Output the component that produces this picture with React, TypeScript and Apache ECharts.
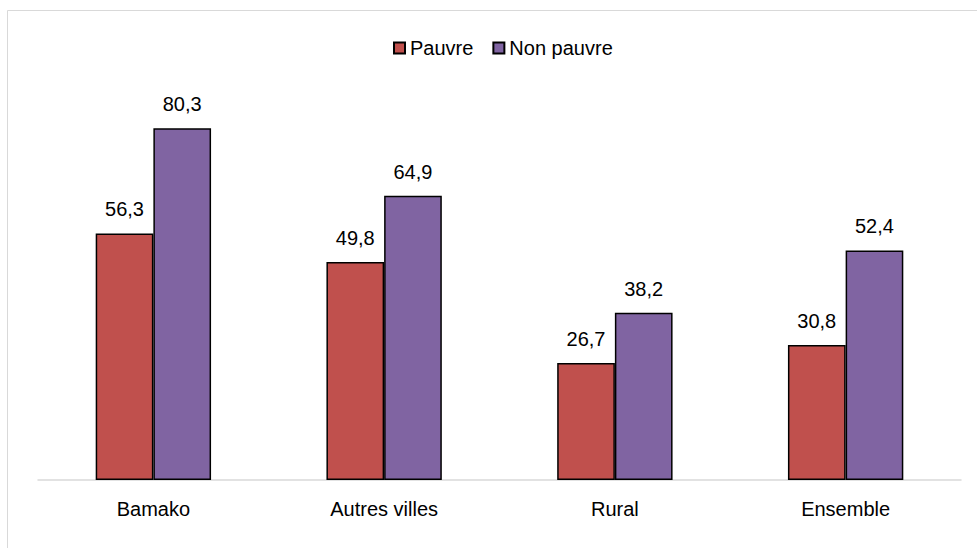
import React, { useEffect, useRef } from "react";
import * as echarts from "echarts";

const categories = ["Bamako", "Autres villes", "Rural", "Ensemble"];
const pauvre = [56.3, 49.8, 26.7, 30.8];
const nonPauvre = [80.3, 64.9, 38.2, 52.4];
const seriesNames = ["Pauvre", "Non pauvre"];

export default function App() {
  const ref = useRef<HTMLDivElement>(null);
  useEffect(() => {
    if (!ref.current) return;
    const chart = echarts.init(ref.current, undefined, { renderer: "svg" });
    const font = "'Liberation Sans', Arial, sans-serif";
    const label = {
      show: true,
      position: "top",
      distance: 14,
      color: "#000",
      fontSize: 20,
      fontFamily: font,
      formatter: (p: any) => String(p.value.toFixed(1)).replace(".", ","),
    };
    chart.setOption({
      animation: false,
      backgroundColor: "#fff",
      graphic: [
        {
          type: "rect",
          shape: { x: 7.5, y: 10.5, width: 1000, height: 600 },
          style: { fill: "none", stroke: "#d9d9d9", lineWidth: 1 },
          silent: true,
        },
      ],
      legend: {
        top: 38,
        left: 393,
        padding: 0,
        itemWidth: 11,
        itemHeight: 11,
        itemGap: 19,
        icon: "rect",
        textStyle: { color: "#000", fontSize: 20, fontFamily: font },
        data: seriesNames,
      },
      grid: { left: 38, right: 16, top: 42, bottom: 68 },
      xAxis: {
        type: "category",
        data: categories,
        axisTick: { show: false },
        axisLine: { lineStyle: { color: "#d9d9d9", width: 1.5 } },
        axisLabel: { color: "#000", fontSize: 20, fontFamily: font, margin: 19 },
      },
      yAxis: {
        type: "value",
        min: 0,
        max: 100,
        show: false,
        splitLine: { show: false },
      },
      series: [
        {
          name: seriesNames[0],
          type: "bar",
          data: pauvre,
          barGap: "0%",
          barCategoryGap: "50%",
          itemStyle: { color: "#C0504D", borderColor: "#000", borderWidth: 1.5 },
          label,
        },
        {
          name: seriesNames[1],
          type: "bar",
          data: nonPauvre,
          barGap: "0%",
          barCategoryGap: "50%",
          itemStyle: { color: "#8064A2", borderColor: "#000", borderWidth: 1.5 },
          label,
        },
      ],
    });
    return () => chart.dispose();
  }, []);
  return <div ref={ref} style={{ width: 977, height: 548, position: "absolute", left: 0, top: 0 }} />;
}
